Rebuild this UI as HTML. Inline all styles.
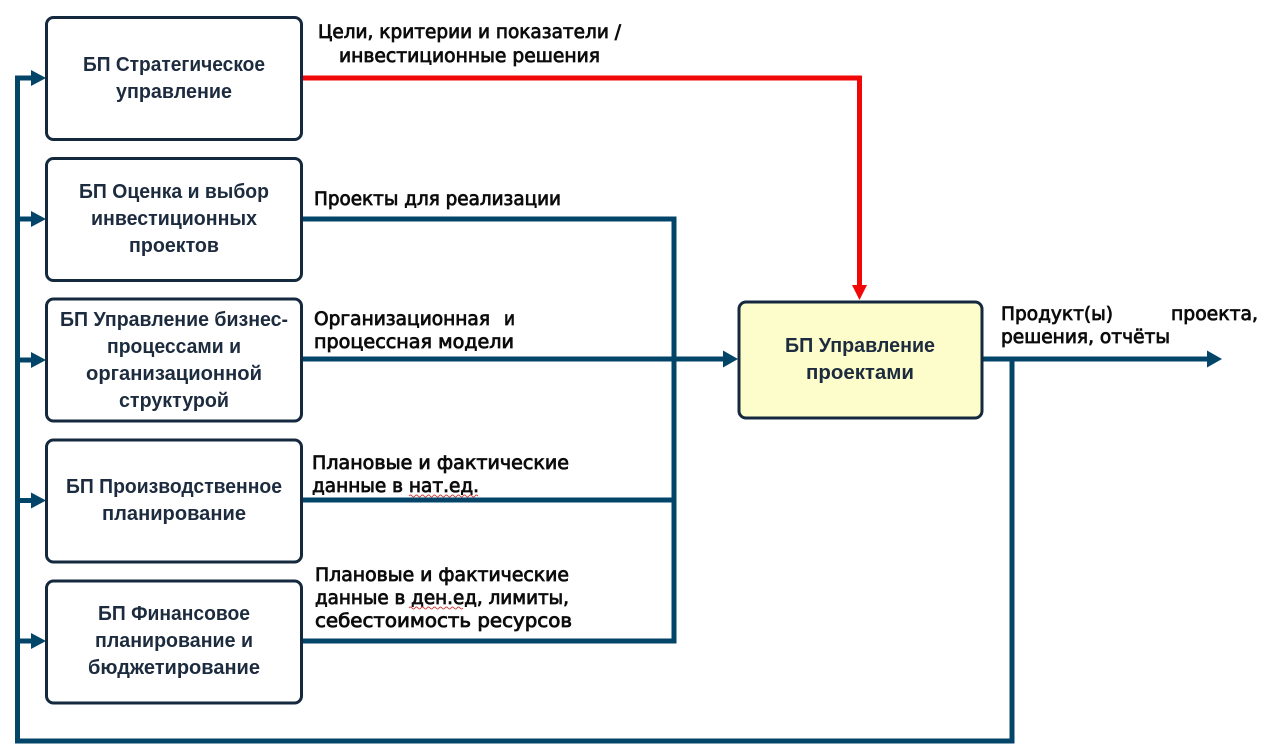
<!DOCTYPE html>
<html lang="ru"><head><meta charset="utf-8"><title>БП Управление проектами</title>
<style>
html,body{margin:0;padding:0;background:#fff;width:1271px;height:756px;overflow:hidden}
svg{display:block}
.b{font:bold 20px "Liberation Sans",sans-serif;fill:#1d2b3e;text-anchor:middle}
.l{font:normal 19px "DejaVu Sans","Liberation Sans",sans-serif;fill:#0c0c0c;stroke:#0c0c0c;stroke-width:.8px}
.n{fill:#fff;stroke:#14293d;stroke-width:3}
.c{fill:none;stroke:#034569;stroke-width:5}
.a{fill:#034569}
</style></head><body>
<svg width="1271" height="756" viewBox="0 0 1271 756" xmlns="http://www.w3.org/2000/svg">
<rect width="1271" height="756" fill="#fff"/>
<path class="c" d="M34 78H17.500V741H1012V359"/>
<path class="c" d="M18 219H34M18 360H34M18 500.500H34M18 641H34"/>
<path class="c" d="M302 219H674V641H302M302 500H674M302 359H726M983 359H1208"/>
<path class="a" d="M31 70L46 78L31 86ZM31 211L46 219L31 227ZM31 352L46 360L31 368ZM31 492.500L46 500.500L31 508.500ZM31 633L46 641L31 649ZM723 350.500L738 359L723 367.500ZM1207 350.500L1222 359L1207 367.500Z"/>
<path d="M302 78H859.500V290" fill="none" stroke="#f00808" stroke-width="5"/>
<path d="M852 285L859.500 300L867 285Z" fill="#f00808"/>
<rect class="n" x="46.500" y="17.500" width="255" height="122" rx="7"/>
<rect class="n" x="46.500" y="158.500" width="255" height="122" rx="7"/>
<rect class="n" x="46.500" y="299" width="255" height="122" rx="7"/>
<rect class="n" x="46.500" y="440" width="255" height="122" rx="7"/>
<rect class="n" x="46.500" y="581" width="255" height="122" rx="7"/>
<rect x="739" y="302" width="243" height="116" rx="7" fill="#fdfdcb" stroke="#14293d" stroke-width="3"/>
<text class="b"><tspan x="174" y="71" textLength="182" lengthAdjust="spacingAndGlyphs">БП Стратегическое</tspan><tspan x="174" y="98" textLength="116" lengthAdjust="spacingAndGlyphs">управление</tspan></text>
<text class="b"><tspan x="174" y="198" textLength="190" lengthAdjust="spacingAndGlyphs">БП Оценка и выбор</tspan><tspan x="174" y="225" textLength="166" lengthAdjust="spacingAndGlyphs">инвестиционных</tspan><tspan x="174" y="252" textLength="90" lengthAdjust="spacingAndGlyphs">проектов</tspan></text>
<text class="b"><tspan x="174" y="326" textLength="228" lengthAdjust="spacingAndGlyphs">БП Управление бизнес-</tspan><tspan x="174" y="353" textLength="134" lengthAdjust="spacingAndGlyphs">процессами и</tspan><tspan x="174" y="380" textLength="176" lengthAdjust="spacingAndGlyphs">организационной</tspan><tspan x="174" y="407" textLength="110" lengthAdjust="spacingAndGlyphs">структурой</tspan></text>
<text class="b"><tspan x="174" y="493" textLength="216" lengthAdjust="spacingAndGlyphs">БП Производственное</tspan><tspan x="174" y="520" textLength="144" lengthAdjust="spacingAndGlyphs">планирование</tspan></text>
<text class="b"><tspan x="174" y="620" textLength="152" lengthAdjust="spacingAndGlyphs">БП Финансовое</tspan><tspan x="174" y="647" textLength="158" lengthAdjust="spacingAndGlyphs">планирование и</tspan><tspan x="174" y="674" textLength="172" lengthAdjust="spacingAndGlyphs">бюджетирование</tspan></text>
<text class="b"><tspan x="860" y="352" textLength="150" lengthAdjust="spacingAndGlyphs">БП Управление</tspan><tspan x="860" y="379" textLength="108" lengthAdjust="spacingAndGlyphs">проектами</tspan></text>
<text class="l" x="318" y="38" textLength="303" lengthAdjust="spacingAndGlyphs">Цели, критерии и показатели /</text>
<text class="l" x="339" y="62" textLength="261" lengthAdjust="spacingAndGlyphs">инвестиционные решения</text>
<text class="l" x="314" y="205" textLength="247" lengthAdjust="spacingAndGlyphs">Проекты для реализации</text>
<text class="l" x="314" y="325" textLength="176" lengthAdjust="spacingAndGlyphs">Организационная</text>
<text class="l" x="504" y="325" textLength="11" lengthAdjust="spacingAndGlyphs">и</text>
<text class="l" x="314" y="348" textLength="200" lengthAdjust="spacingAndGlyphs">процессная модели</text>
<text class="l" x="312" y="469" textLength="257" lengthAdjust="spacingAndGlyphs">Плановые и фактические</text>
<text class="l" x="312" y="492" textLength="167" lengthAdjust="spacingAndGlyphs">данные в нат.ед.</text>
<text class="l" x="315" y="581" textLength="254" lengthAdjust="spacingAndGlyphs">Плановые и фактические</text>
<text class="l" x="315" y="604" textLength="254" lengthAdjust="spacingAndGlyphs">данные в ден.ед, лимиты,</text>
<text class="l" x="315" y="627" textLength="257" lengthAdjust="spacingAndGlyphs">себестоимость ресурсов</text>
<text class="l" x="1001" y="320" textLength="112" lengthAdjust="spacingAndGlyphs">Продукт(ы)</text>
<text class="l" x="1171" y="320" textLength="87" lengthAdjust="spacingAndGlyphs">проекта,</text>
<text class="l" x="1001" y="343" textLength="169" lengthAdjust="spacingAndGlyphs">решения, отчёты</text>
<path d="M409 496q1.500-2 3 0t3 0t3 0t3 0t3 0t3 0t3 0t3 0t3 0t3 0t3 0t3 0t3 0t3 0t3 0t3 0t3 0t3 0t3 0t3 0t3 0t3 0t3 0M409 608q1.500-2 3 0t3 0t3 0t3 0t3 0t3 0t3 0t3 0t3 0t3 0t3 0t3 0t3 0t3 0t3 0t3 0t3 0t3 0" fill="none" stroke="#c44" stroke-width="1"/>
</svg>
</body></html>
